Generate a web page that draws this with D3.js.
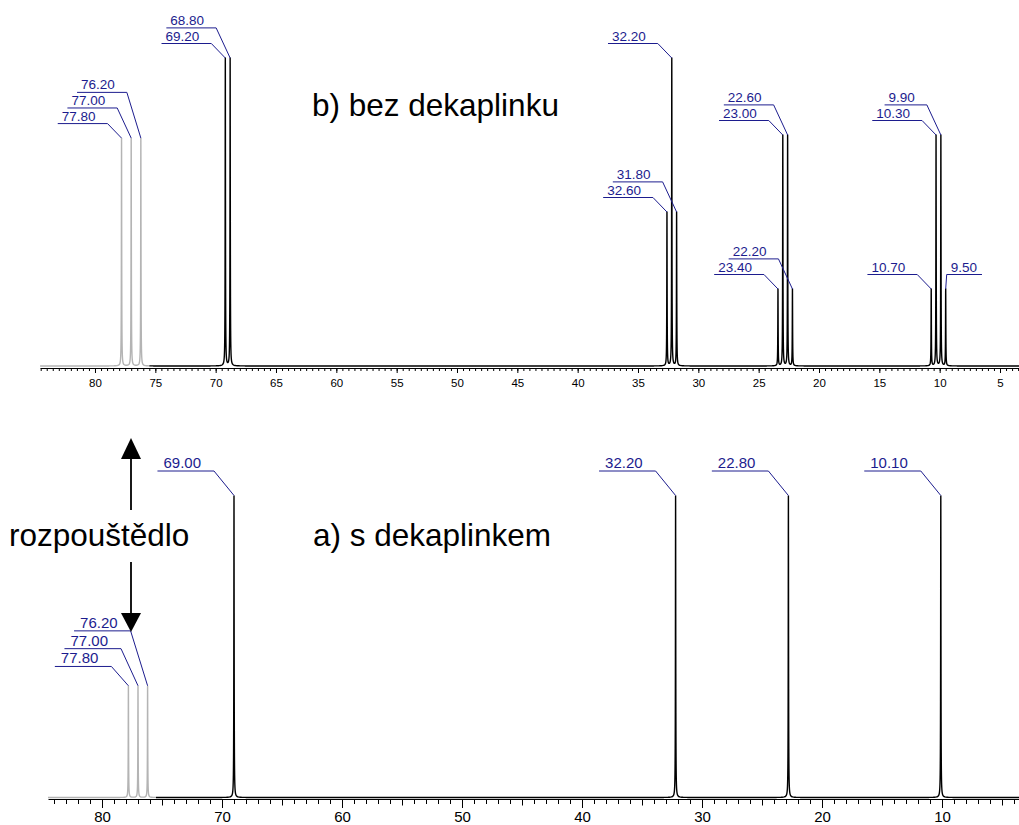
<!DOCTYPE html>
<html>
<head>
<meta charset="utf-8">
<script src="https://cdn.jsdelivr.net/npm/d3@7"></script>
<style>
  html, body { margin: 0; padding: 0; background: #fff; }
  svg { display: block; font-family: "Liberation Sans", Arial, sans-serif; }
</style>
</head>
<body>
<script>
// peak positions (ppm) and relative intensities
const topPeaks = [77.8, 77.0, 76.2, 69.2, 68.8, 32.6, 32.2, 31.8, 23.4, 23.0, 22.6, 22.2, 10.7, 10.3, 9.9, 9.5];
const topHeights = [0.74, 0.74, 0.74, 1, 1, 0.5, 1, 0.5, 0.25, 0.75, 0.75, 0.25, 0.25, 0.75, 0.75, 0.25];
const bottomPeaks = [77.8, 77.0, 76.2, 69.0, 32.2, 22.8, 10.1];
const bottomHeights = [0.37, 0.37, 0.37, 1, 1, 1, 1];
const solventLimit = 75.5;

const topMajorTicks = [80, 75, 70, 65, 60, 55, 50, 45, 40, 35, 30, 25, 20, 15, 10, 5];
const bottomMajorTicks = [80, 70, 60, 50, 40, 30, 20, 10];

const titleTop = "b) bez dekaplinku";
const titleBottom = "a) s dekaplinkem";
const solventText = "rozpouštědlo";

const width = 1019;
const height = 825;
const blue = "#1c1c8e";
const gray = "#b4b4b4";

const svg = d3.select("body").append("svg")
  .attr("width", width)
  .attr("height", height);

const fmt = d3.format(".2f");

function drawSpectrum(opts) {
  const { peaks, heights, x, y, labelFont, firstOffset, rowGap, elbowDx, textGap, lineLead, flipRight } = opts;
  const g = svg.append("g");
  const hw = 0.015; // line half-width (ppm)

  function lineshape(p) {
    let s = 0;
    peaks.forEach((c, i) => {
      const d = (p - c) / hw;
      s += heights[i] / (1 + d * d);
    });
    return s;
  }

  // coarse grid + dense sampling around each peak
  const [d0, d1] = x.domain();
  let pts = d3.range(Math.round(d1 * 20), Math.round(d0 * 20) + 1).map(v => v / 20);
  peaks.forEach(c => {
    d3.range(-100, 101).forEach(k => pts.push(c + k * 0.002));
  });
  pts = pts.filter(p => p >= d1 && p <= d0).sort((a, b) => b - a);

  const solventPts = pts.filter(p => p >= solventLimit);
  const mainPts = pts.filter(p => p <= solventLimit);

  const line = d3.line()
    .x(p => x(p))
    .y(p => y(lineshape(p)));

  g.append("path")
    .attr("d", line(solventPts))
    .attr("fill", "none")
    .attr("stroke", gray)
    .attr("stroke-width", 1.4);
  g.append("path")
    .attr("d", line(mainPts))
    .attr("fill", "none")
    .attr("stroke", "#000")
    .attr("stroke-width", 1.4);

  // peak labels: group by cluster and equal intensity, stacked rows
  const items = peaks.map((p, i) => ({ p, h: heights[i] }));
  const groups = [];
  items.slice().sort((a, b) => a.p - b.p).forEach(it => {
    if (flipRight.includes(it.p)) { groups.push([Object.assign(it, { right: true })]); return; }
    const gr = groups.find(gg => !gg[0].right && gg[0].h === it.h && Math.abs(gg[gg.length - 1].p - it.p) < 1.5);
    if (gr) gr.push(it); else groups.push([it]);
  });

  const lab = g.append("g").attr("fill", blue).attr("font-size", labelFont);
  groups.forEach(gr => {
    const n = gr.length;
    gr.forEach((it, i) => {
      const px = x(it.p);
      const py = y(it.h);
      const rowY = py - firstOffset(n) - rowGap * (n - 1 - i);
      const t = lab.append("text").text(fmt(it.p));
      const tw = t.node().getComputedTextLength();
      let pathD;
      if (it.right) {
        const ex = px + 1;
        t.attr("x", ex + lineLead).attr("y", rowY - 3);
        pathD = `M${px},${py}L${ex},${rowY}L${ex + lineLead + tw + 5},${rowY}`;
      } else {
        const ex = px - elbowDx(n);
        const tx = ex - textGap - tw;
        t.attr("x", tx).attr("y", rowY - 3);
        pathD = `M${tx - lineLead},${rowY}L${ex},${rowY}L${px},${py}`;
      }
      g.append("path")
        .attr("d", pathD)
        .attr("fill", "none")
        .attr("stroke", blue)
        .attr("stroke-width", 1);
    });
  });
  return g;
}

// ---- top spectrum ----
const xTop = d3.scaleLinear().domain([84.55, 3.4]).range([95 - 4.55 * 12.067, 1000 + 1.6 * 12.067]);
const yTop = d3.scaleLinear().domain([0, 1]).range([366, 58]);

drawSpectrum({
  peaks: topPeaks, heights: topHeights, x: xTop, y: yTop,
  labelFont: 13.5, firstOffset: n => 14.5, rowGap: 15.6, elbowDx: n => 14,
  textGap: 12, lineLead: 4, flipRight: [9.5]
});

const axTop = svg.append("g").attr("transform", "translate(0,368)");
axTop.call(d3.axisBottom(xTop)
  .tickValues(d3.range(84.5, 3.4, -0.5))
  .tickSize(3).tickSizeOuter(0).tickFormat(""));
axTop.append("g").call(d3.axisBottom(xTop)
  .tickValues(topMajorTicks).tickSize(5).tickSizeOuter(0).tickPadding(6))
  .call(a => a.select(".domain").remove());
axTop.selectAll("text").attr("font-size", 11.5).attr("font-family", null).attr("fill", "#000");
axTop.selectAll("line,path").attr("stroke", "#000");

// ---- bottom spectrum ----
const xBot = d3.scaleLinear().domain([84.5, 3.5]).range([102 - 4.5 * 12, 942 + 6.5 * 12]);
const yBot = d3.scaleLinear().domain([0, 1]).range([797.5, 495.5]);

drawSpectrum({
  peaks: bottomPeaks, heights: bottomHeights, x: xBot, y: yBot,
  labelFont: 15, firstOffset: n => (n === 1 ? 24.5 : 19.3), rowGap: 17.8,
  elbowDx: n => (n === 1 ? 20 : 17), textGap: 13, lineLead: 6, flipRight: []
});

const axBot = svg.append("g").attr("transform", "translate(0,799)");
axBot.call(d3.axisBottom(xBot)
  .tickValues(d3.range(84, 3.5, -1).filter(v => v % 5 !== 0))
  .tickSize(5).tickSizeOuter(0).tickFormat(""));
axBot.append("g").call(d3.axisBottom(xBot)
  .tickValues(d3.range(75, 3.5, -10)).tickSize(6.5).tickSizeOuter(0).tickFormat(""))
  .call(a => a.select(".domain").remove());
axBot.append("g").call(d3.axisBottom(xBot)
  .tickValues(bottomMajorTicks).tickSize(9).tickSizeOuter(0).tickPadding(3.5))
  .call(a => a.select(".domain").remove());
axBot.selectAll("text").attr("font-size", 15).attr("font-family", null).attr("fill", "#000");
axBot.selectAll("line,path").attr("stroke", "#000");

// ---- titles ----
svg.append("text").attr("x", 312).attr("y", 116).attr("font-size", 31.5).text(titleTop);
svg.append("text").attr("x", 313).attr("y", 546).attr("font-size", 31.5).text(titleBottom);
svg.append("text").attr("x", 9).attr("y", 546).attr("font-size", 31.5).text(solventText);

// ---- solvent arrows ----
const arrowX = 131;
const arrows = svg.append("g");
arrows.append("line").attr("x1", arrowX).attr("x2", arrowX).attr("y1", 458).attr("y2", 510)
  .attr("stroke", "#000").attr("stroke-width", 1.8);
arrows.append("path").attr("d", `M${arrowX},438L${arrowX + 10},459L${arrowX - 10},459Z`).attr("fill", "#000");
arrows.append("line").attr("x1", arrowX).attr("x2", arrowX).attr("y1", 562).attr("y2", 614)
  .attr("stroke", "#000").attr("stroke-width", 1.8);
arrows.append("path").attr("d", `M${arrowX},632L${arrowX + 10},613L${arrowX - 10},613Z`).attr("fill", "#000");
</script>
</body>
</html>
